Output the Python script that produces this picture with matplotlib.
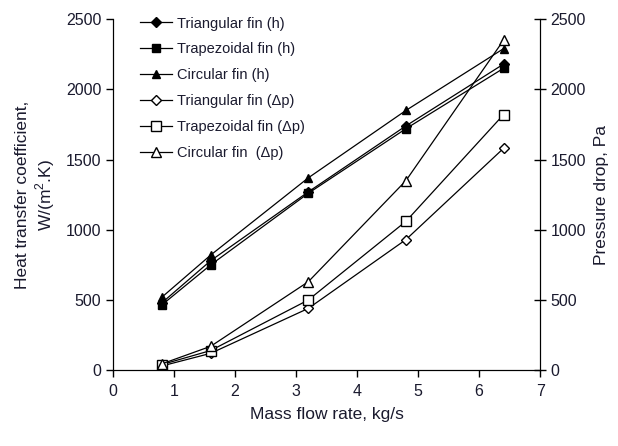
import matplotlib
matplotlib.use("Agg")
import matplotlib.pyplot as plt

plt.rcParams["font.family"] = ["Liberation Sans", "DejaVu Sans"]
plt.rcParams["text.color"] = "#1a1a2e"
plt.rcParams["axes.labelcolor"] = "#1a1a2e"
plt.rcParams["xtick.labelcolor"] = "#1a1a2e"
plt.rcParams["ytick.labelcolor"] = "#1a1a2e"
plt.rcParams["mathtext.fontset"] = "custom"
plt.rcParams["mathtext.rm"] = "Liberation Sans"

flow = [0.8, 1.6, 3.2, 4.8, 6.4]

h_tri = [480, 780, 1270, 1740, 2180]
h_trap = [465, 750, 1260, 1720, 2150]
h_circ = [520, 820, 1370, 1850, 2290]

dp_tri = [30, 120, 440, 930, 1580]
dp_trap = [40, 140, 500, 1060, 1820]
dp_circ = [45, 170, 630, 1350, 2350]

fig = plt.figure(figsize=(6.18, 4.46), dpi=100)
ax = fig.add_axes([0.183, 0.170, 0.691, 0.787])
ax2 = ax.twinx()

lw = 0.9
ms = 6
lines = []
lines += ax.plot(flow, h_tri, "k-", marker="D", ms=ms - 1, lw=lw, label="Triangular fin (h)")
lines += ax.plot(flow, h_trap, "k-", marker="s", ms=ms, lw=lw, label="Trapezoidal fin (h)")
lines += ax.plot(flow, h_circ, "k-", marker="^", ms=ms, lw=lw, label="Circular fin (h)")
lines += ax2.plot(flow, dp_tri, "k-", marker="D", ms=ms - 1, mfc="white", lw=lw,
                  label="Triangular fin (\u0394p)")
lines += ax2.plot(flow, dp_trap, "k-", marker="s", ms=ms + 1, mfc="white", lw=lw,
                  label="Trapezoidal fin (\u0394p)")
lines += ax2.plot(flow, dp_circ, "k-", marker="^", ms=ms + 1, mfc="white", lw=lw,
                  label="Circular fin  (\u0394p)")

for a in (ax, ax2):
    a.set_ylim(0, 2500)
    a.set_yticks(range(0, 2501, 500))
    a.spines["top"].set_visible(False)
    a.tick_params(labelsize=11.5, width=1)
ax.set_xlim(0, 7)
ax.set_xticks(range(0, 8))
ax.tick_params(axis="y", direction="out", length=5)
ax.tick_params(axis="x", direction="out", length=5, pad=5)
ax2.tick_params(axis="y", direction="inout", length=8)

ax.set_xlabel("Mass flow rate, kg/s", fontsize=12.5, labelpad=6)
ax.set_ylabel("Heat transfer coefficient,\nW/(m$^2$.K)", fontsize=12.5, labelpad=6)
ax2.set_ylabel("Pressure drop, Pa", fontsize=12.5, labelpad=6)

ax.legend(handles=lines, loc="upper left", bbox_to_anchor=(0.033, 1.045), frameon=False,
          fontsize=10.5, handlelength=2.2, handletextpad=0.3, labelspacing=0.82)

fig.savefig("out.png", dpi=100)
plt.close(fig)
